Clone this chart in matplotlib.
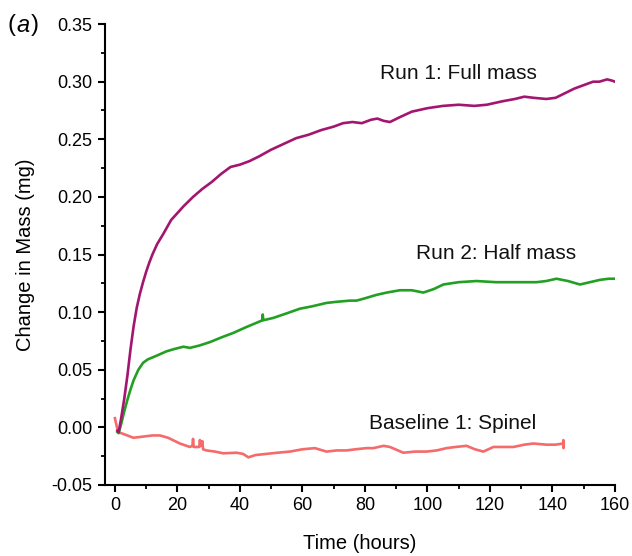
import matplotlib
matplotlib.use("Agg")
import matplotlib.pyplot as plt
from matplotlib.ticker import MultipleLocator, FormatStrFormatter

plt.rcParams['font.family'] = ['Liberation Sans', 'DejaVu Sans']

# Run 1: Full mass
run1_t = [0.8, 1.2, 2.0, 3.0, 4.0, 5.0, 6.0, 7.0, 8.0, 9.0, 10, 11, 12, 13.5, 15.5, 18, 20, 22,
          25, 28, 31, 34, 37, 40, 43, 46, 50, 54, 58, 62, 66, 70, 73, 76, 79, 82, 84, 86, 88,
          91, 95, 100, 105, 110, 115, 119, 124, 128, 131, 134, 138, 141, 144, 147, 150, 153,
          155, 157.5, 159, 160]
run1_v = [-0.003, -0.004, 0.008, 0.025, 0.045, 0.068, 0.088, 0.104, 0.116, 0.126, 0.135, 0.143,
          0.150, 0.159, 0.168, 0.180, 0.186, 0.192, 0.200, 0.207, 0.213, 0.220, 0.226, 0.228,
          0.231, 0.235, 0.241, 0.246, 0.251, 0.254, 0.258, 0.261, 0.264, 0.265, 0.264, 0.267,
          0.268, 0.266, 0.265, 0.269, 0.274, 0.277, 0.279, 0.280, 0.279, 0.280, 0.283, 0.285,
          0.287, 0.286, 0.285, 0.286, 0.290, 0.294, 0.297, 0.300, 0.300, 0.302, 0.301, 0.300]

# Run 2: Half mass
run2_t = [0.8, 1.2, 2.0, 3.0, 4.0, 5.0, 6.0, 7.5, 9.0, 10.5, 12.3, 14, 16.5, 19, 21.9, 24,
          27, 30.4, 34, 37.9, 42, 46.4, 47.2, 47.3, 47.5, 50.7, 55, 59.2, 63, 67.7, 71, 75.2,
          77.3, 80, 83.7, 87, 91.2, 95, 98.7, 102, 105.1, 110, 115.7, 122, 128, 134.9, 138,
          141.3, 145, 148.8, 152, 155.2, 158, 160]
run2_v = [-0.004, -0.005, 0.003, 0.014, 0.024, 0.033, 0.041, 0.050, 0.056, 0.059, 0.061, 0.063,
          0.066, 0.068, 0.070, 0.069, 0.071, 0.074, 0.078, 0.082, 0.087, 0.092, 0.093, 0.098,
          0.093, 0.095, 0.099, 0.103, 0.105, 0.108, 0.109, 0.110, 0.110, 0.112, 0.115, 0.117,
          0.119, 0.119, 0.117, 0.120, 0.124, 0.126, 0.127, 0.126, 0.126, 0.126, 0.127, 0.129,
          0.127, 0.124, 0.126, 0.128, 0.129, 0.129]

# Baseline 1: Spinel
base_t = [0.0, 0.5, 1.0, 3.0, 5.9, 9, 12, 14.4, 17, 20.8, 24.0, 24.8, 25.0, 25.2, 26.5, 27.0,
          27.2, 27.4, 28.0, 28.2, 29.3, 32, 34.7, 38.9, 41, 42.7, 45, 48.5, 52, 56, 60, 64,
          67.7, 71, 74.1, 77, 80.5, 82.7, 86, 88, 92.3, 96, 99.7, 103, 106.1, 109, 112.5,
          115.2, 117.9, 121.1, 124, 127.5, 131, 133.9, 138.1, 141, 143.4, 143.5, 143.55, 143.6]
base_v = [0.008, 0.002, -0.004, -0.006, -0.009, -0.008, -0.007, -0.007, -0.009, -0.014, -0.017,
          -0.016, -0.010, -0.017, -0.017, -0.017, -0.011, -0.016, -0.012, -0.019, -0.020,
          -0.021, -0.0225, -0.022, -0.023, -0.026, -0.024, -0.023, -0.022, -0.021, -0.019,
          -0.018, -0.021, -0.020, -0.020, -0.019, -0.018, -0.018, -0.016, -0.017, -0.022,
          -0.021, -0.021, -0.020, -0.018, -0.017, -0.016, -0.019, -0.021, -0.017, -0.017,
          -0.017, -0.015, -0.014, -0.015, -0.015, -0.014, -0.011, -0.018, -0.014]

labels = ["Run 1: Full mass", "Run 2: Half mass", "Baseline 1: Spinel"]
label_pos = [(110, 0.3075), (122, 0.151), (108, 0.003)]
colors = ["#A3166F", "#23A023", "#F56A6A"]

fig = plt.figure(figsize=(6.32, 5.56), dpi=100)
ax = fig.add_axes([0.166, 0.1277, 0.807, 0.829])

ax.plot(base_t, base_v, color=colors[2], lw=1.9)
ax.plot(run2_t, run2_v, color=colors[1], lw=1.9)
ax.plot(run1_t, run1_v, color=colors[0], lw=1.9)

for lab, (x, y) in zip(labels, label_pos):
    ax.text(x, y, lab, fontsize=15, ha='center', va='center', color='#111111')

ax.set_xlim(-3.2, 160)
ax.set_ylim(-0.05, 0.35)
ax.xaxis.set_major_locator(MultipleLocator(20))
ax.xaxis.set_minor_locator(MultipleLocator(10))
ax.yaxis.set_major_locator(MultipleLocator(0.05))
ax.yaxis.set_minor_locator(MultipleLocator(0.025))
ax.yaxis.set_major_formatter(FormatStrFormatter('%.2f'))

for s in ['top', 'right']:
    ax.spines[s].set_visible(False)
for s in ['left', 'bottom']:
    ax.spines[s].set_linewidth(1.5)

ax.tick_params(which='major', direction='out', length=5, width=1.5, labelsize=13, pad=4)
ax.tick_params(which='minor', direction='out', length=3, width=1.3)

ax.set_xlabel("Time (hours)", fontsize=14.5, labelpad=14)
ax.set_ylabel("Change in Mass (mg)", fontsize=14.5, labelpad=12)

fig.text(0.012, 0.955, "(", fontsize=17, va='center', ha='left')
fig.text(0.026, 0.955, "a", fontsize=17, va='center', ha='left', style='italic')
fig.text(0.048, 0.955, ")", fontsize=17, va='center', ha='left')

fig.savefig("out.png", dpi=100)
